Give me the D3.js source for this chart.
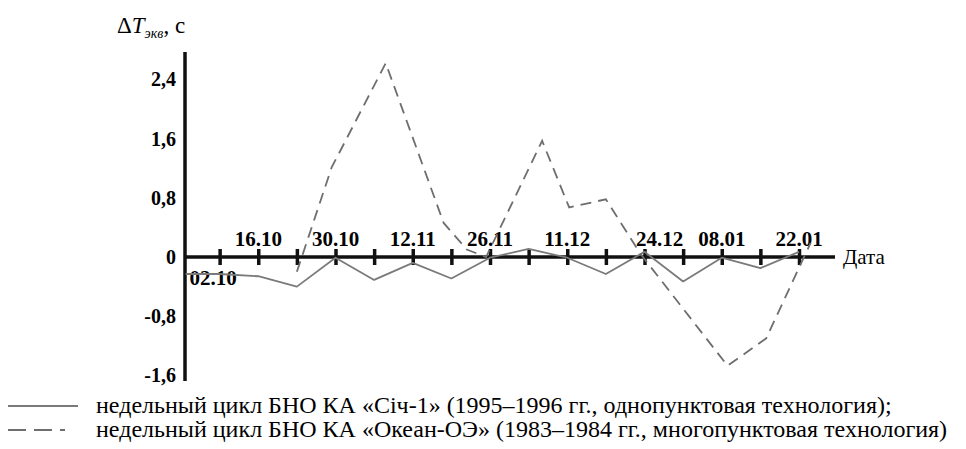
<!DOCTYPE html>
<html>
<head>
<meta charset="utf-8">
<script src="https://cdn.jsdelivr.net/npm/d3@7"></script>
<style>
  body { margin: 0; background: #fff; }
</style>
</head>
<body>
<div id="chart"></div>
<script>
// week index: 0 = 02.10, each step = one week
var tickWeeks = d3.range(1, 17);
var dateLabels = ['02.10', '16.10', '30.10', '12.11', '26.11', '11.12', '24.12', '08.01', '22.01'];
var dateLabelWeeks = [0, 2, 4, 6, 8, 10, 12, 14, 16];
var yTicks = [2.4, 1.6, 0.8, 0, -0.8, -1.6];

// "Січ-1" (1995-1996), one value per week
var sichWeeks = [0.12, 1, 2, 3, 4, 5, 6, 7, 8, 9, 10, 11, 12, 13, 14, 15, 16];
var sichValues = [-0.23, -0.23, -0.26, -0.40, -0.01, -0.31, -0.08, -0.29, -0.01, 0.11, -0.01, -0.23, 0.07, -0.33, -0.01, -0.15, 0.07];

// "Океан-ОЭ" (1983-1984)
var okeanWeeks = [3.0, 3.9, 5.3, 6.8, 7.4, 7.9, 9.35, 10.05, 11.0, 11.9, 14.15, 15.15, 16.3];
var okeanValues = [-0.20, 1.21, 2.62, 0.46, 0.10, 0.00, 1.57, 0.67, 0.78, 0.04, -1.47, -1.10, 0.19];

var legendItems = [
  'недельный цикл БНО КА «Січ-1» (1995–1996 гг., однопунктовая технология);',
  'недельный цикл БНО КА «Океан-ОЭ» (1983–1984 гг., многопунктовая технология)'
];

var W = 966, H = 449;
var serif = '"Liberation Serif"';
var svg = d3.select('#chart').append('svg')
  .attr('width', W).attr('height', H)
  .attr('font-family', 'Liberation Serif');

function serifText(sel) {
  return sel.attr('font-family', 'Liberation Serif').style('font-family', serif);
}

var x = d3.scaleLinear().domain([0, 16]).range([181, 799]);
var y = d3.scaleLinear().domain([0, 1]).range([257, 183]);
var axisX = 185;

// y axis (lines only, labels drawn below)
var yAxis = svg.append('g')
  .attr('transform', 'translate(' + axisX + ',0)')
  .call(d3.axisLeft(y).tickValues(yTicks).tickSize(0).tickFormat(''));
yAxis.attr('font-family', null).attr('font-size', null);
yAxis.select('.domain').remove();
yAxis.selectAll('.tick text').remove();
yAxis.append('line')
  .attr('x1', 0).attr('x2', 0)
  .attr('y1', 52).attr('y2', 381)
  .attr('stroke', '#111').attr('stroke-width', 3.5);

svg.selectAll('.y-label')
  .data(yTicks)
  .enter()
  .append('text')
  .attr('x', axisX - 9)
  .attr('y', function(d) { return y(d) + 7; })
  .attr('text-anchor', 'end')
  .attr('font-size', 20)
  .attr('font-weight', 'bold')
  .call(serifText)
  .text(function(d) { return d === 0 ? '0' : String(d).replace('.', ','); });

// x axis
var xAxis = svg.append('g')
  .attr('transform', 'translate(0,' + y(0) + ')')
  .call(d3.axisBottom(x).tickValues(tickWeeks).tickSize(16).tickFormat(''));
xAxis.attr('font-family', null).attr('font-size', null);
xAxis.select('.domain').remove();
xAxis.selectAll('.tick text').remove();
xAxis.selectAll('.tick line')
  .attr('y1', -8).attr('y2', 8)
  .attr('stroke', '#111').attr('stroke-width', 3.5);
xAxis.append('line')
  .attr('x1', axisX).attr('x2', 835)
  .attr('y1', 0).attr('y2', 0)
  .attr('stroke', '#111').attr('stroke-width', 3.5);

// date labels
svg.selectAll('.date-label')
  .data(dateLabels)
  .enter()
  .append('text')
  .attr('x', function(d, i) {
    if (i === 0) return axisX + 28;
    return x(dateLabelWeeks[i]) + (d === '24.12' ? 15 : 0);
  })
  .attr('y', function(d, i) { return i === 0 ? y(0) + 28 : y(0) - 11; })
  .attr('text-anchor', 'middle')
  .attr('font-size', 21)
  .attr('font-weight', 'bold')
  .call(serifText)
  .text(function(d) { return d; });

// lines
var line = d3.line()
  .x(function(d) { return x(d[0]); })
  .y(function(d) { return y(d[1]); });

svg.append('path')
  .datum(d3.zip(sichWeeks, sichValues))
  .attr('fill', 'none')
  .attr('stroke', '#7a7a7a')
  .attr('stroke-width', 1.8)
  .attr('stroke-linejoin', 'round')
  .attr('d', line);

svg.append('path')
  .datum(d3.zip(okeanWeeks, okeanValues))
  .attr('fill', 'none')
  .attr('stroke', '#6e6e6e')
  .attr('stroke-width', 1.8)
  .attr('stroke-dasharray', '11,7')
  .attr('d', line);

// axis titles
var title = svg.append('text')
  .attr('x', 117).attr('y', 33)
  .attr('font-size', 23)
  .call(serifText);
title.append('tspan').text('Δ');
title.append('tspan').attr('font-style', 'italic').text('T');
title.append('tspan').attr('font-style', 'italic').attr('font-size', 14).attr('dy', 5).text('экв');
title.append('tspan').attr('dy', -5).text(', с');

svg.append('text')
  .attr('x', 843).attr('y', y(0) + 7)
  .attr('font-size', 21)
  .call(serifText)
  .text('Дата');

// legend
var legend = svg.selectAll('.legend')
  .data(legendItems)
  .enter()
  .append('g')
  .attr('class', 'legend')
  .attr('transform', function(d, i) { return 'translate(0,' + (406 + i * 24) + ')'; });

legend.append('line')
  .attr('x1', 8).attr('x2', function(d, i) { return i === 0 ? 78 : 80; })
  .attr('y1', 0).attr('y2', 0)
  .attr('stroke', function(d, i) { return i === 0 ? '#7a7a7a' : '#6e6e6e'; })
  .attr('stroke-width', 1.8)
  .attr('stroke-dasharray', function(d, i) { return i === 0 ? null : '18,8,18,8,5'; });

var legendText = legend.append('text')
  .attr('x', 96).attr('y', 7)
  .attr('font-size', 21)
  .call(serifText)
  .text(function(d) { return d; });

// fit the longer legend line to the width it has in the figure
var longest = d3.max(legendText.nodes(), function(n) { return n.getComputedTextLength(); });
if (longest > 0) {
  var fs = Math.max(18, Math.min(24, 21 * 866 / longest));
  legendText.attr('font-size', fs);
}
</script>
</body>
</html>
